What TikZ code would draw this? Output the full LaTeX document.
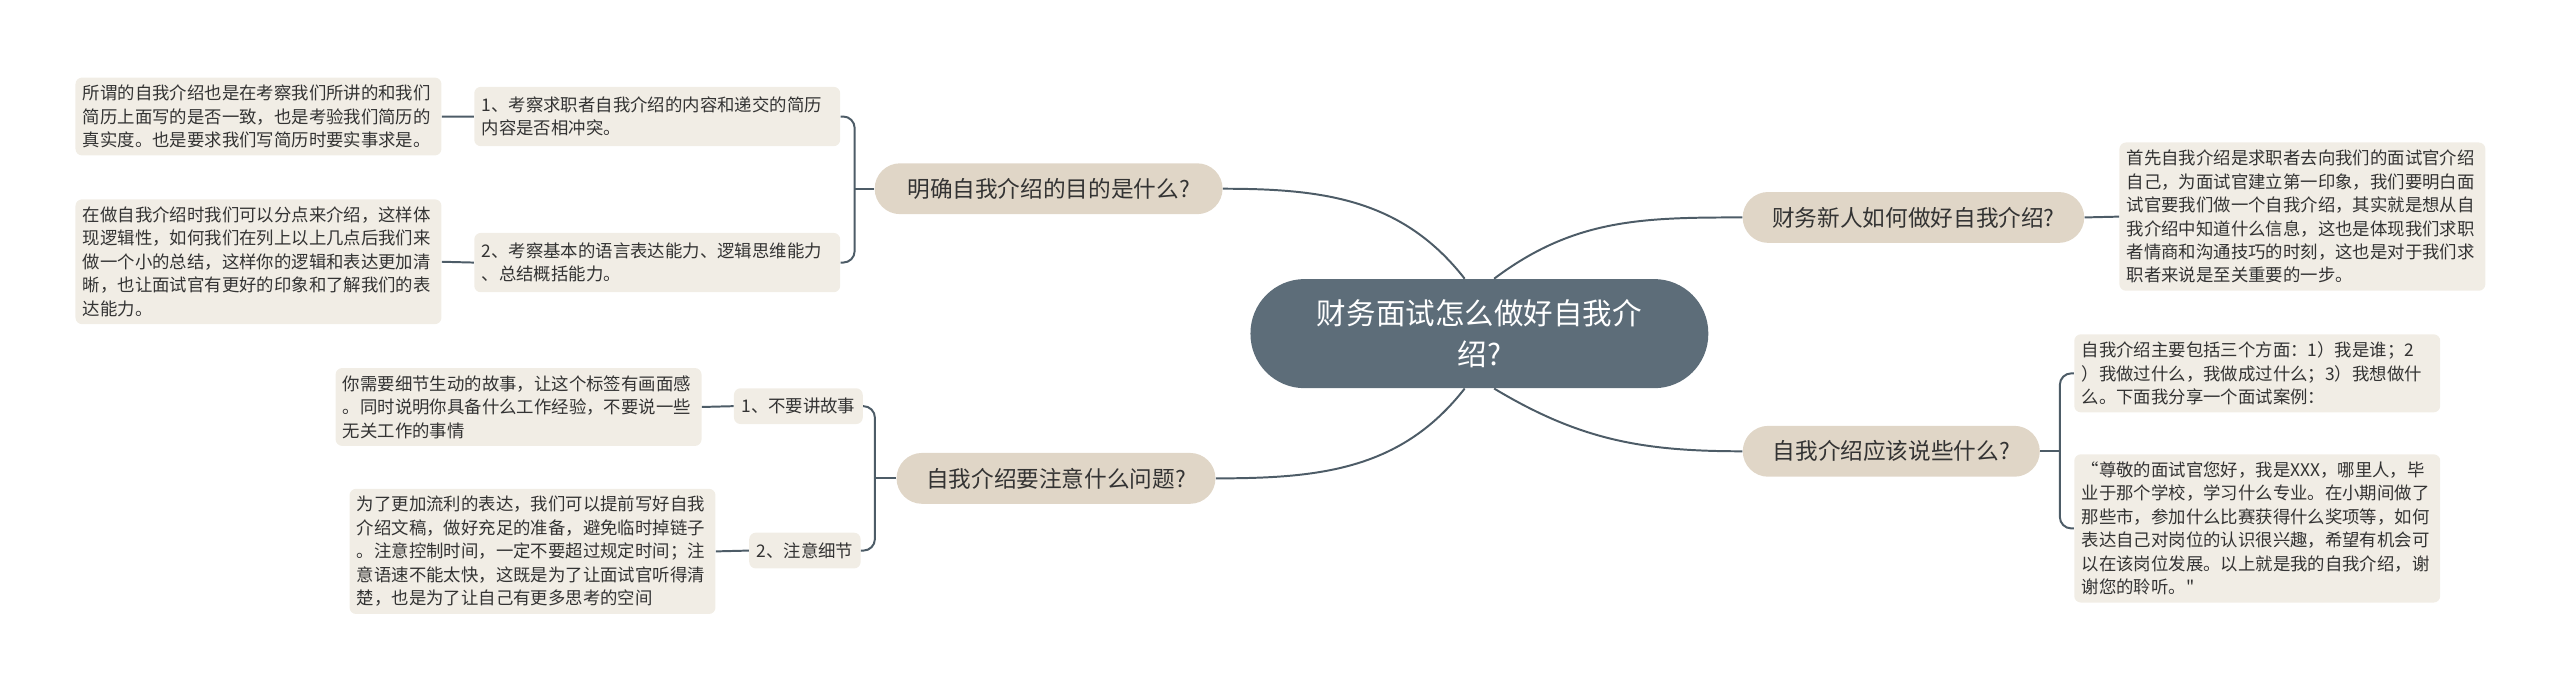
\documentclass[tikz,border=0pt]{standalone}
\usepackage{fontspec}
\newfontfamily\cjk{Noto Sans CJK SC}
\usepackage{tikz}
\definecolor{rootc}{HTML}{5D6D79}
\definecolor{topicc}{HTML}{E0D6C7}
\definecolor{leafc}{HTML}{F1EDE5}
\definecolor{linec}{HTML}{4D5C67}
\definecolor{textc}{HTML}{333333}
\tikzset{root/.style={fill=rootc, text=white, font=\cjk\fontsize{18}{25}\selectfont, align=center,
    rounded corners=33pt, minimum width=279pt, minimum height=66.5pt}}
\tikzset{topic/.style={fill=topicc, text=textc, font=\cjk\fontsize{13.8}{18}\selectfont,
    rounded corners=15.5pt, minimum height=31pt, inner xsep=18pt}}
\tikzset{sub/.style={fill=leafc, text=textc, font=\cjk\fontsize{10.6}{14.3}\selectfont, align=left,
    rounded corners=4pt, inner xsep=4.5pt, inner ysep=6pt}}
\tikzset{leaf/.style={sub, inner ysep=4.5pt, text width=214pt}}
\tikzset{link/.style={draw=linec, line width=1.2pt}}

\begin{document}
\begin{tikzpicture}[x=1pt, y=1pt]
\useasboundingbox (0,0) rectangle (1560,-421);

\node[root] at (901.5,-203.3) (c) {财务面试怎么做好自我介\\绍?};

\node[topic, minimum width=212pt] at (639,-115) (l1) {明确自我介绍的目的是什么?};
\node[topic, minimum width=193pt] at (643.5,-291.5) (l2) {自我介绍要注意什么问题?};
\node[topic, minimum width=208pt] at (1166,-132.5) (r1) {财务新人如何做好自我介绍?};
\node[topic, minimum width=181pt] at (1152.5,-275) (r2) {自我介绍应该说些什么?};

\node[sub, text width=214pt] at (400.5,-71) (l1a) {1、考察求职者自我介绍的内容和递交的简历\\内容是否相冲突。};
\node[sub, text width=214pt] at (400.5,-160) (l1b) {2、考察基本的语言表达能力、逻辑思维能力\\、总结概括能力。};
\node[leaf] at (157.5,-71) (l1ax) {所谓的自我介绍也是在考察我们所讲的和我们\\简历上面写的是否一致，也是考验我们简历的\\真实度。也是要求我们写简历时要实事求是。};
\node[leaf] at (157.5,-159.5) (l1bx) {在做自我介绍时我们可以分点来介绍，这样体\\现逻辑性，如何我们在列上以上几点后我们来\\做一个小的总结，这样你的逻辑和表达更加清\\晰，也让面试官有更好的印象和了解我们的表\\达能力。};

\node[sub] at (486.5,-247.5) (l2a) {1、不要讲故事};
\node[sub] at (490.5,-335.5) (l2b) {2、注意细节};
\node[leaf] at (316,-248) (l2ax) {你需要细节生动的故事，让这个标签有画面感\\。同时说明你具备什么工作经验，不要说一些\\无关工作的事情};
\node[leaf] at (324.5,-336) (l2bx) {为了更加流利的表达，我们可以提前写好自我\\介绍文稿，做好充足的准备，避免临时掉链子\\。注意控制时间，一定不要超过规定时间；注\\意语速不能太快，这既是为了让面试官听得清\\楚，也是为了让自己有更多思考的空间};

\node[leaf] at (1403,-132) (r1x) {首先自我介绍是求职者去向我们的面试官介绍\\自己，为面试官建立第一印象，我们要明白面\\试官要我们做一个自我介绍，其实就是想从自\\我介绍中知道什么信息，这也是体现我们求职\\者情商和沟通技巧的时刻，这也是对于我们求\\职者来说是至关重要的一步。};
\node[leaf] at (1375.5,-227.5) (r2a) {自我介绍主要包括三个方面：1）我是谁；2\\）我做过什么，我做成过什么；3）我想做什\\么。下面我分享一个面试案例：};
\node[leaf] at (1375.5,-322) (r2b) {“尊敬的面试官您好，我是XXX，哪里人，毕\\业于那个学校，学习什么专业。在小期间做了\\那些市，参加什么比赛获得什么奖项等，如何\\表达自己对岗位的认识很兴趣，希望有机会可\\以在该岗位发展。以上就是我的自我介绍，谢\\谢您的聆听。"};

\draw[link] (l1.east) to[out=0, in=128] (c.105)
(l2.east) to[out=0, in=232] (c.255)
(r1.west) to[out=180, in=37] (c.75)
(r2.west) to[out=180, in=329] (c.285);

\draw[link] (l1.west) -- ++(-12,0) coordinate (j1)
(l2.west) -- ++(-13,0) coordinate (j2)
(r2.east) -- ++(12,0) coordinate (j3);
\draw[link, rounded corners=7pt] (j1) |- (l1a.east) (j1) |- (l1b.east)
(j2) |- (l2a.east) (j2) |- (l2b.east)
(j3) |- (r2a.west) (j3) |- (r2b.west);

\draw[link] (l1ax.east) -- (l1a.west)
(l1bx.east) -- (l1b.west)
(l2ax.east) -- (l2a.west)
(l2bx.east) -- (l2b.west)
(r1.east) -- (r1x.west);
\end{tikzpicture}
\end{document}
